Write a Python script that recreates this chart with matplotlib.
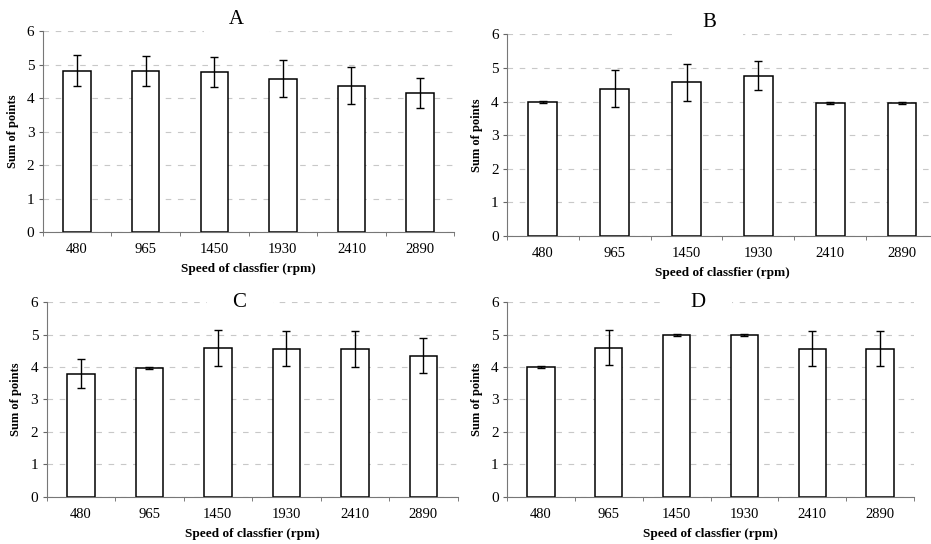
import numpy as np
import matplotlib
matplotlib.use("Agg")
import matplotlib.pyplot as plt

speeds = ['480', '965', '1450', '1930', '2410', '2890']

a_mean = [4.82, 4.80, 4.78, 4.57, 4.37, 4.15]
a_err = [0.45, 0.45, 0.45, 0.55, 0.55, 0.45]
b_mean = [4.00, 4.38, 4.58, 4.77, 3.96, 3.96]
b_err = [0.03, 0.55, 0.55, 0.43, 0.03, 0.03]
c_mean = [3.80, 3.98, 4.58, 4.57, 4.56, 4.35]
c_err = [0.45, 0.03, 0.55, 0.55, 0.55, 0.54]
d_mean = [4.00, 4.60, 4.98, 4.98, 4.57, 4.57]
d_err = [0.03, 0.55, 0.03, 0.03, 0.55, 0.55]

panels = ['A', 'B', 'C', 'D']
means = [a_mean, b_mean, c_mean, d_mean]
errs = [a_err, b_err, c_err, d_err]

# axes boxes in figure fractions (left, bottom, width, height)
boxes = [[0.046, 0.5735, 0.442, 0.3695],
         [0.5445, 0.5662, 0.463, 0.3708],
         [0.050, 0.0870, 0.4415, 0.3575],
         [0.5447, 0.0870, 0.437, 0.3575]]
title_y = [1.055, 1.06, 1.0, 1.0]

serif = 'Liberation Serif'
fig = plt.figure(figsize=(9.31, 5.44), dpi=100)

for i in range(4):
    ax = fig.add_axes(boxes[i])
    x = np.arange(len(speeds))
    ax.set_axisbelow(True)
    ax.bar(x, means[i], width=0.4, color='white', edgecolor='black', linewidth=1.1, zorder=2)
    ax.errorbar(x, means[i], yerr=errs[i], fmt='none', ecolor='black', elinewidth=1.0,
                capsize=3, capthick=1.0, zorder=3)
    ax.set_xlim(-0.5, 5.5)
    ax.set_ylim(0, 6)
    ax.set_yticks(range(7))
    ax.yaxis.grid(True, linestyle=(0, (5, 6)), color='#c8c8c8', linewidth=0.8)
    ax.set_xticks(x)
    ax.set_xticklabels(speeds, fontsize=10.5, family=serif)
    ax.set_xticks(np.arange(-0.5, 6, 1), minor=True)
    ax.tick_params(axis='x', which='major', length=0, pad=8)
    ax.tick_params(axis='x', which='minor', length=3, color='#666666', direction='out')
    ax.tick_params(axis='y', length=3, color='#666666', direction='out', pad=3)
    for lab in ax.get_yticklabels():
        lab.set_family(serif)
        lab.set_fontsize(11)
    for s in ['top', 'right']:
        ax.spines[s].set_visible(False)
    for s in ['left', 'bottom']:
        ax.spines[s].set_color('#777777')
        ax.spines[s].set_linewidth(0.8)
    ax.set_ylabel('Sum of points', fontsize=9, fontweight='bold', family=serif, labelpad=6)
    ax.set_xlabel('Speed of classfier (rpm)', fontsize=9.5, fontweight='bold', family=serif,
                  labelpad=5)
    ax.text(0.47, title_y[i], '    ' + panels[i] + '    ', transform=ax.transAxes,
            ha='center', va='center', fontsize=15, family=serif, zorder=5, clip_on=False,
            bbox=dict(boxstyle='square,pad=0.25', facecolor='white', edgecolor='none'))

fig.savefig('out.png', dpi=100)
